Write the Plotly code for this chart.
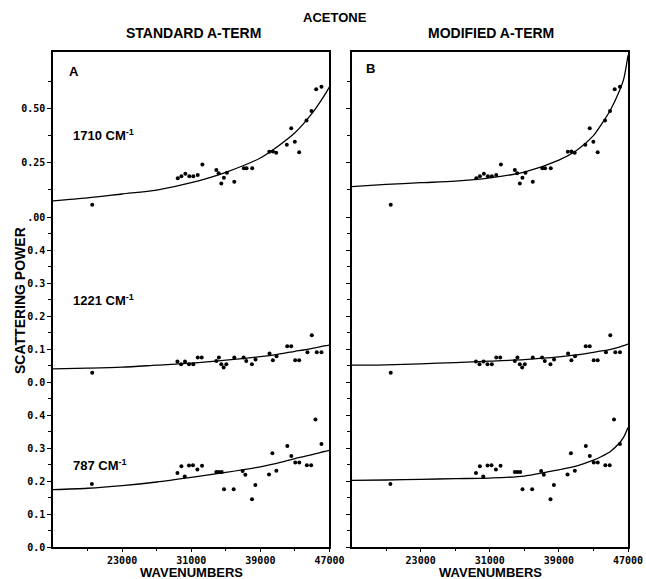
import plotly.graph_objects as go
from plotly.subplots import make_subplots

# ---------------- data ----------------
wn_1710 = [19540, 29440, 29860, 30320, 30780, 31240, 31750, 32290, 33900, 34170,
           34480, 34780, 35130, 35980, 37090, 37400, 38060, 40030, 40450, 40830,
           42060, 42570, 42990, 43490, 44340, 44920, 45460, 46070]
sp_1710 = [0.056, 0.179, 0.188, 0.199, 0.188, 0.188, 0.194, 0.242, 0.216, 0.201,
           0.154, 0.181, 0.204, 0.162, 0.225, 0.225, 0.225, 0.301, 0.302, 0.296,
           0.333, 0.409, 0.347, 0.298, 0.444, 0.488, 0.588, 0.600]

wn_1221 = [19540, 29400, 29820, 30280, 30740, 31240, 31750, 32210, 33900, 34200,
           34480, 34750, 35060, 35980, 37060, 37370, 38020, 38440, 40060, 40450,
           40870, 42110, 42570, 43030, 43490, 44450, 44950, 45530, 46070]
sp_1221 = [0.028, 0.062, 0.054, 0.062, 0.054, 0.054, 0.074, 0.074, 0.064, 0.074,
           0.054, 0.044, 0.054, 0.074, 0.074, 0.064, 0.054, 0.068, 0.086, 0.066,
           0.078, 0.108, 0.108, 0.066, 0.066, 0.090, 0.142, 0.090, 0.090]

wn_787 = [19500, 29400, 29860, 30250, 30740, 31200, 31710, 32250, 33900, 34200,
          34520, 34790, 35910, 36950, 37260, 38030, 38420, 40000, 40390, 40850,
          42120, 42580, 43040, 43500, 44380, 44880, 45380, 46070]
sp_787 = [0.191, 0.224, 0.245, 0.214, 0.247, 0.248, 0.235, 0.246, 0.227, 0.227,
          0.227, 0.175, 0.175, 0.230, 0.219, 0.145, 0.188, 0.220, 0.284, 0.231,
          0.306, 0.276, 0.256, 0.256, 0.248, 0.248, 0.386, 0.312]

fit_wn = [15000, 19000, 23000, 27000, 31000, 35000, 39000, 41000, 43000, 44000,
          45000, 46000, 46500, 47000]
std_1710 = [0.074, 0.088, 0.106, 0.124, 0.158, 0.206, 0.272, 0.325, 0.388, 0.430,
            0.478, 0.535, 0.566, 0.600]
mod_1710 = [0.140, 0.150, 0.158, 0.165, 0.180, 0.207, 0.262, 0.305, 0.375, 0.431,
            0.495, 0.580, 0.635, 0.745]
std_1221 = [0.040, 0.042, 0.045, 0.051, 0.057, 0.066, 0.077, 0.084, 0.093, 0.097,
            0.102, 0.107, 0.110, 0.112]
mod_1221 = [0.051, 0.052, 0.055, 0.059, 0.063, 0.068, 0.076, 0.082, 0.090, 0.094,
            0.099, 0.106, 0.110, 0.115]
std_787 = [0.174, 0.178, 0.186, 0.197, 0.211, 0.226, 0.243, 0.254, 0.268, 0.274,
           0.280, 0.287, 0.290, 0.293]
mod_787 = [0.202, 0.203, 0.205, 0.207, 0.209, 0.215, 0.234, 0.245, 0.263, 0.275,
           0.290, 0.315, 0.333, 0.362]

x_ticks = [23000, 31000, 39000, 47000]
x_ticktext = ["23000", "31000", "39000", "47000"]
x_minor = [19000, 27000, 35000, 43000]

top_ticks = [0.0, 0.25, 0.5]
top_ticktext = [".00", "0.25", "0.50"]
top_minor = [0.125, 0.375, 0.625]
low_ticks = [0.0, 0.1, 0.2, 0.3, 0.4]
low_ticktext = ["0.0", "0.1", "0.2", "0.3", "0.4"]
low_minor = [0.05, 0.15, 0.25, 0.35, 0.45]

band_labels = ["1710 CM<sup>-1</sup>", "1221 CM<sup>-1</sup>", "787 CM<sup>-1</sup>"]

# ---------------- figure ----------------
fig = make_subplots(rows=3, cols=2, horizontal_spacing=0.0383, vertical_spacing=0)

rows = [
    (wn_1710, sp_1710, std_1710, mod_1710),
    (wn_1221, sp_1221, std_1221, mod_1221),
    (wn_787, sp_787, std_787, mod_787),
]
for r, (wx, sy, sfit, mfit) in enumerate(rows, start=1):
    for c, fit in ((1, sfit), (2, mfit)):
        fig.add_trace(go.Scatter(x=fit_wn, y=fit, mode="lines",
                                 line=dict(color="black", width=1.3, shape="spline", smoothing=0.8),
                                 showlegend=False, hoverinfo="skip"), row=r, col=c)
        fig.add_trace(go.Scatter(x=wx, y=sy, mode="markers",
                                 marker=dict(color="black", size=4),
                                 showlegend=False), row=r, col=c)

tickfont = dict(family="DejaVu Sans Mono", size=10, color="black", weight="bold")

for r in (1, 2, 3):
    for c in (1, 2):
        xa = dict(range=[15000, 47000], showgrid=False, zeroline=False, automargin=False,
                  tickvals=x_ticks, ticktext=x_ticktext, tickfont=tickfont,
                  linecolor="black", linewidth=1.5)
        if r == 3:
            xa.update(showline=True, ticks="outside", ticklen=3, tickwidth=1.2,
                      tickcolor="black", showticklabels=True,
                      minor=dict(tickvals=x_minor, ticks="outside", ticklen=2, tickcolor="black"))
        elif r == 1:
            xa.update(showline=True, side="top", ticks="", showticklabels=False)
        else:
            xa.update(showline=False, ticks="", showticklabels=False)
        fig.update_xaxes(row=r, col=c, **xa)

        if r == 1:
            yr, tv, tt, mn = [0, 0.76], top_ticks, top_ticktext, top_minor
        else:
            yr, tv, tt, mn = [0, 0.5], low_ticks, low_ticktext, low_minor
        fig.update_yaxes(row=r, col=c, range=yr, tickvals=tv, ticktext=tt, automargin=False,
                         showgrid=False, zeroline=False, showline=True, mirror=True,
                         linecolor="black", linewidth=1.5, ticks="outside", ticklen=4,
                         tickwidth=1.2, tickcolor="black", tickfont=tickfont,
                         showticklabels=(c == 1),
                         minor=dict(tickvals=mn, ticks="outside", ticklen=3, tickcolor="black"))

title_font = dict(family="Liberation Sans", size=14, color="black")
ann = []
ann.append(dict(text="<b>ACETONE</b>", x=0.4904, y=1.0707, font=dict(title_font, size=13)))
ann.append(dict(text="<b>STANDARD A-TERM</b>", x=0.2435, y=1.0384, font=title_font))
ann.append(dict(text="<b>MODIFIED A-TERM</b>", x=0.7617, y=1.0384, font=title_font))
ann.append(dict(text="<b>WAVENUMBERS</b>", x=0.24, y=-0.0525, font=dict(title_font, size=13)))
ann.append(dict(text="<b>WAVENUMBERS</b>", x=0.7617, y=-0.0525, font=dict(title_font, size=13)))
ann.append(dict(text="<b>SCATTERING POWER</b>", x=-0.0574, y=0.499, textangle=-90, font=title_font))
ann.append(dict(text="<b>A</b>", x=0.0365, y=0.9596, font=dict(title_font, size=13)))
ann.append(dict(text="<b>B</b>", x=0.553, y=0.9657, font=dict(title_font, size=13)))
for lab, yy in zip(band_labels, [0.8323, 0.499, 0.1657]):
    ann.append(dict(text="<b>" + lab + "</b>", x=0.031, y=yy, xanchor="left",
                    font=dict(title_font, size=13)))
for a in ann:
    a.setdefault("xanchor", "center")
    a.update(xref="paper", yref="paper", yanchor="middle", showarrow=False)

fig.update_layout(width=646, height=579, margin=dict(l=53, r=18, t=52, b=32),
                  plot_bgcolor="white", paper_bgcolor="white", annotations=ann,
                  showlegend=False)

fig.write_html("out.html", config={"displayModeBar": False},
               post_script="document.body.style.margin='0px';document.body.style.overflow='hidden';")
